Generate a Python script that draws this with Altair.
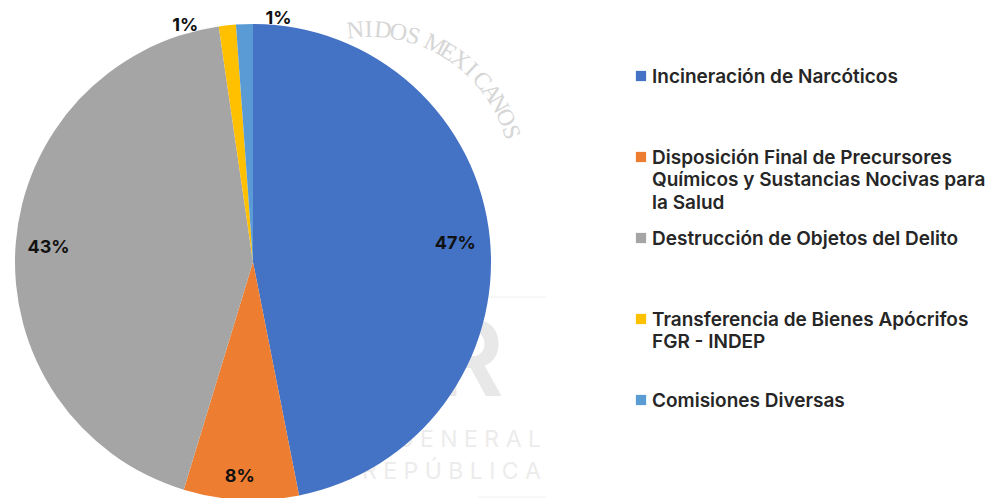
import altair as alt
import pandas as pd

categories = ["Incineración de Narcóticos",
              "Disposición Final de Precursores\nQuímicos y Sustancias Nocivas para\nla Salud",
              "Destrucción de Objetos del Delito",
              "Transferencia de Bienes Apócrifos\nFGR - INDEP",
              "Comisiones Diversas"]
values = [46.9, 7.8, 43.0, 1.16, 1.14]
colors = ["#4472C4", "#ED7D31", "#A5A5A5", "#FFC000", "#5B9BD5"]
order = [0, 1, 2, 3, 4]

label_text = ["47%", "8%", "43%", "1%", "1%"]
label_theta = [85, 183.5, 274, 344, 6]
label_radius = [203, 215, 205, 246, 244]

seal_letters = list("NIDOSMEXICANOS")
seal_theta = [-5.6, -0.5, 5, 11, 17, 26, 31.75, 37.5, 43, 49, 55, 60, 66, 72]

wm_text = ["G E N E R A L", "R E P Ú B L I C A"]
wm_rows = [0, 1]

FONT = "Inter"
CX, CY, R = 245, 254, 238
W, H = 978, 490

slices = pd.DataFrame({"cat": categories, "v": values, "o": order})
labels = pd.DataFrame({"t": label_text, "a": label_theta, "r": label_radius})
seal = pd.DataFrame({"t": seal_letters, "a": seal_theta})
wm = pd.DataFrame({"t": wm_text, "row": wm_rows})
cdom = alt.Scale(domain=categories, range=colors)
rscale = alt.Scale(type="linear", domain=[0, R], range=[0, R])
ascale = alt.Scale(type="linear", domain=[-180, 180], range=[-3.14159265, 3.14159265])

seal_layer = alt.Chart(seal).mark_text(
    font="Liberation Serif", fontSize=24, color="#d6d6d6",
    x=362, y=170
).encode(
    theta=alt.Theta("a:Q", scale=ascale, stack=False),
    radius=alt.value(148),
    text="t:N",
    angle=alt.Angle("b:Q", scale=None),
).transform_calculate(b="(datum.a + 360) % 360")

wm_layer = alt.Chart(wm).mark_text(
    font=FONT, fontSize=23, color="#ececec", align="right"
).encode(
    x=alt.value(533),
    y=alt.Y("row:O", axis=None, scale=alt.Scale(range=[432, 464], type="point", padding=0)),
    text="t:N",
)

r_layer = alt.Chart(pd.DataFrame({"t": ["R"]})).mark_text(
    font=FONT, fontWeight=600, fontSize=106, color="#e8e8e8", align="right", baseline="alphabetic"
).encode(x=alt.value(496), y=alt.value(388), text="t:N")

rule_layer = alt.Chart(pd.DataFrame({"k": [289, 489]})).mark_rule(color="#f0f0f0", strokeWidth=1).encode(
    x=alt.value(470), x2=alt.value(538),
    y=alt.Y("k:Q", axis=None, scale=alt.Scale(domain=[0, H], range=[0, H])),
)

pie = alt.Chart(slices).mark_arc(outerRadius=R, x=CX, y=CY).encode(
    theta=alt.Theta("v:Q", scale=alt.Scale(type="linear", domain=[0, sum(values)], range=[0, 6.283185307])),
    order=alt.Order("o:O"),
    color=alt.Color("cat:N", scale=cdom, legend=None),
)

pct = alt.Chart(labels).mark_text(
    font=FONT, fontWeight=700, fontSize=18, color="#111111", x=CX, y=CY
).encode(
    theta=alt.Theta("a:Q", scale=ascale, stack=False),
    radius=alt.Radius("r:Q", scale=rscale),
    text="t:N",
)

ky = alt.Y("o:O", axis=None, scale=alt.Scale(type="point", range=[68, 392], padding=0))
key_sym = alt.Chart(slices).mark_square(size=105, opacity=1).encode(
    x=alt.value(633), y=ky,
    color=alt.Color("cat:N", scale=cdom, legend=None),
)
key_txt = alt.Chart(slices).mark_text(
    font=FONT, fontWeight=600, fontSize=19, color="#262626",
    align="left", baseline="alphabetic", dy=6.5, lineBreak="\n", lineHeight=22.5
).encode(
    x=alt.value(644), y=ky, text="cat:N",
)

chart = alt.layer(seal_layer, wm_layer, r_layer, rule_layer, pie, pct, key_sym, key_txt).resolve_scale(
    theta="independent", radius="independent", y="independent", color="shared"
).properties(width=W, height=H, padding=0, autosize=alt.AutoSizeParams(type="none")
).configure_view(stroke=None)

chart.save("out.html", embed_options={"renderer": "svg", "actions": False})
